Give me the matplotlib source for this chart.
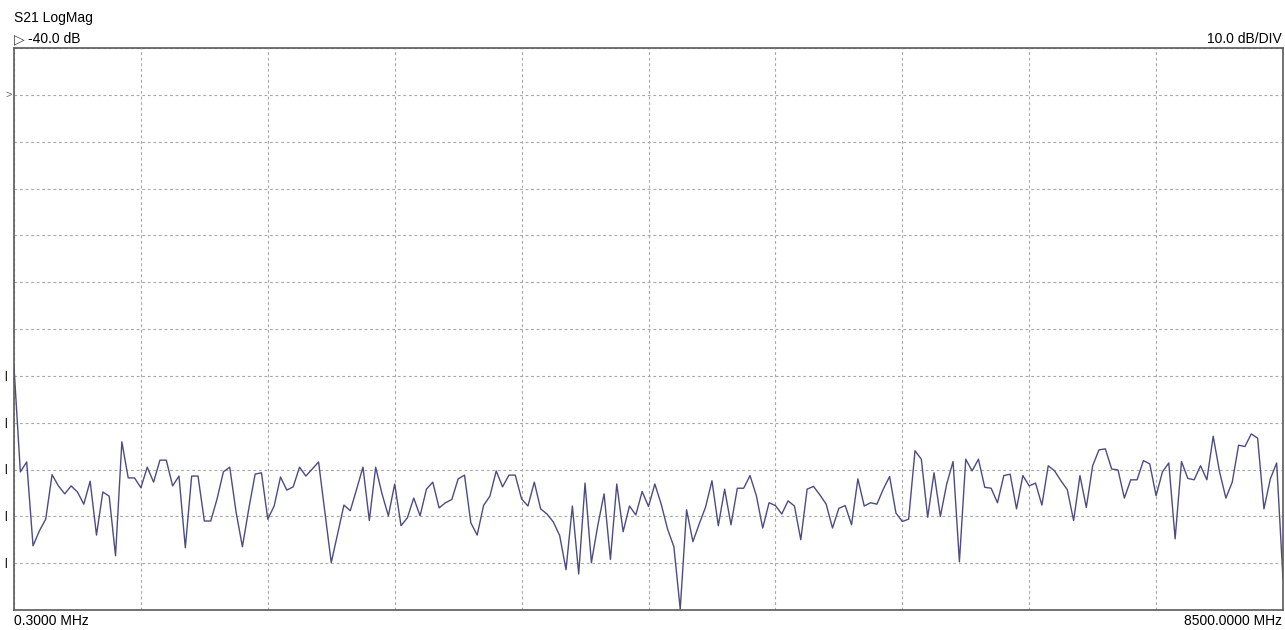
import numpy as np
import matplotlib
matplotlib.use('Agg')
import matplotlib.pyplot as plt
import matplotlib.transforms as mtrans

# sweep settings (VNA style display)
f_start = 0.3       # MHz
f_stop = 8500.0     # MHz
ref_level = -40.0   # dB
scale_div = 10.0    # dB/DIV
n_hdiv = 10
n_vdiv = 12
ref_pos = 11        # reference line, counted in divisions from the bottom

# S21 trace, dB, 201 sweep points
s21_db = [
    -98.1, -120.5, -118.4, -136.3, -133.1, -130.6, -121.1, -123.5, -125.2, -123.5,
    -124.8, -127.4, -122.5, -134.0, -124.8, -125.7, -138.4, -114.1, -121.8, -121.8,
    -123.9, -119.5, -122.7, -118.0, -118.0, -123.5, -121.4, -136.7, -121.4, -121.4,
    -131.0, -131.0, -126.3, -120.5, -119.5, -129.1, -136.5, -128.4, -121.0, -120.7,
    -130.6, -127.8, -121.6, -124.4, -123.7, -119.5, -121.4, -119.9, -118.4, -129.1,
    -139.9, -133.8, -127.6, -128.8, -124.2, -119.5, -130.9, -119.5, -125.2, -129.9,
    -123.1, -132.0, -130.3, -126.1, -129.9, -124.2, -122.7, -128.2, -127.1, -126.4,
    -122.0, -121.2, -131.4, -134.0, -127.7, -125.7, -120.3, -123.7, -121.2, -121.2,
    -126.3, -127.8, -122.7, -128.4, -129.5, -131.2, -134.1, -141.4, -127.8, -142.3,
    -122.9, -139.9, -132.0, -125.2, -139.2, -123.1, -133.3, -127.8, -129.7, -124.7,
    -127.9, -123.1, -127.4, -132.7, -136.5, -149.8, -128.6, -135.4, -131.6, -128.0,
    -122.4, -132.0, -124.2, -131.8, -124.0, -124.0, -121.3, -125.6, -132.5, -127.1,
    -127.7, -129.5, -126.7, -127.8, -135.0, -124.2, -123.6, -125.4, -127.4, -132.5,
    -128.3, -127.7, -131.8, -122.0, -127.8, -127.1, -127.4, -124.2, -121.5, -129.3,
    -131.1, -130.6, -116.0, -117.8, -130.2, -120.7, -130.0, -123.1, -118.3, -139.7,
    -117.8, -120.3, -117.8, -123.8, -124.0, -127.1, -121.3, -121.0, -128.4, -121.3,
    -123.5, -122.9, -127.6, -119.2, -120.3, -122.4, -124.3, -130.9, -121.3, -128.1,
    -119.2, -115.8, -115.6, -119.9, -120.1, -126.1, -122.2, -122.2, -118.1, -118.8,
    -125.6, -120.5, -118.6, -134.8, -118.3, -121.9, -122.2, -119.2, -122.2, -112.9,
    -120.5, -126.1, -122.7, -114.8, -115.1, -112.4, -113.3, -128.4, -122.0, -118.6,
    -143.4,
]

# small side markers on the left edge (dB levels)
side_marks = [-100, -110, -120, -130, -140]

freq = np.linspace(f_start, f_stop, len(s21_db))
y_top = ref_level + (n_vdiv - ref_pos) * scale_div
y_bot = y_top - n_vdiv * scale_div

plt.rcParams['font.family'] = ['Liberation Sans', 'DejaVu Sans']

fig = plt.figure(figsize=(12.85, 6.30), dpi=100)
ax = fig.add_axes([14 / 1285, 20 / 630, 1269 / 1285, 562 / 630])

ax.plot(freq, s21_db, color='#4c4c82', lw=1.0, clip_on=True)

ax.set_xlim(f_start, f_stop)
ax.set_ylim(y_bot, y_top)
ax.set_xticks(np.linspace(f_start, f_stop, n_hdiv + 1))
ax.set_yticks(np.linspace(y_bot, y_top, n_vdiv + 1))
ax.tick_params(length=0, labelbottom=False, labelleft=False)
ax.grid(True, color='#a8a8a8', lw=0.8, ls=(0, (2.5, 2.5)))
for s in ax.spines.values():
    s.set_color('#5a5a5a')
    s.set_linewidth(1.2)

# header / footer texts
fig.text(14 / 1285, 1 - 18 / 630, 'S21 LogMag', fontsize=10, va='center', ha='left')
fig.text(14 / 1285, 1 - 39 / 630, '\u25b7', fontsize=10, va='center', ha='left',
         color='#444444', family=['DejaVu Sans'])
fig.text(28 / 1285, 1 - 39 / 630, '%.1f dB' % ref_level, fontsize=10, va='center', ha='left')
fig.text(1282 / 1285, 1 - 39 / 630, '%.1f dB/DIV' % scale_div, fontsize=10,
         va='center', ha='right')
fig.text(14 / 1285, 1 - 621 / 630, '%.4f MHz' % f_start, fontsize=10, va='center', ha='left')
fig.text(1282 / 1285, 1 - 621 / 630, '%.4f MHz' % f_stop, fontsize=10,
         va='center', ha='right')

# reference marker and side ticks on the left edge
trans = mtrans.blended_transform_factory(fig.transFigure, ax.transData)
ax.text(9 / 1285, ref_level, '>', transform=trans, fontsize=8, color='#666666',
        va='center', ha='center')
for lev in side_marks:
    ax.text(6 / 1285, lev, '|', transform=trans, fontsize=7, color='#222222',
            va='center', ha='center', fontweight='bold')

fig.savefig('out.png', dpi=100, facecolor='white')
